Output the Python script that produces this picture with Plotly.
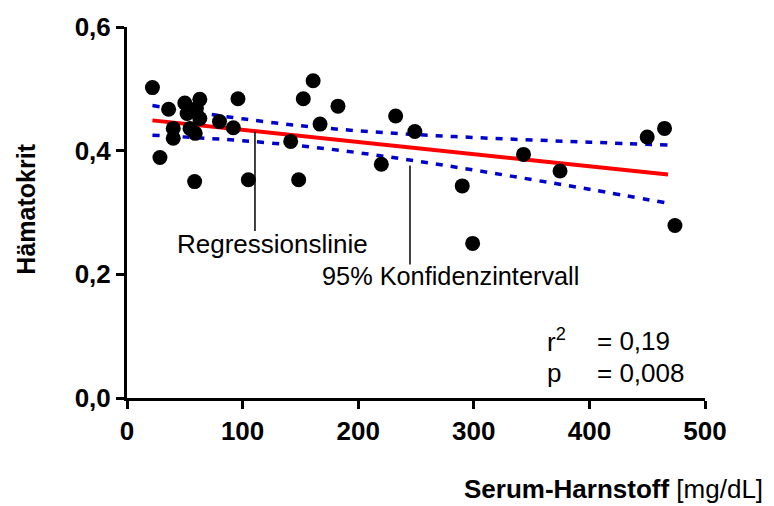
import plotly.graph_objects as go

# --- data ---
urea = [22, 36, 50, 63, 60, 52, 63, 40, 40, 54.5, 59, 80, 92, 96, 28.5, 58.5, 105,
        148.5, 161, 152.5, 182.5, 167, 141.6, 232.4, 249, 220, 290, 299, 343, 374.6,
        450, 465, 474]
hct = [0.502, 0.467, 0.477, 0.483, 0.468, 0.460, 0.452, 0.436, 0.420, 0.436, 0.428,
       0.447, 0.437, 0.484, 0.389, 0.350, 0.353, 0.353, 0.513, 0.484, 0.472, 0.443,
       0.415, 0.456, 0.431, 0.378, 0.343, 0.250, 0.394, 0.367, 0.422, 0.436, 0.279]

reg_x = [22, 468]
reg_y = [0.449, 0.3615]

ci_x = [22, 60, 100, 150, 200, 250, 300, 350, 400, 468]
ci_upper = [0.473, 0.462, 0.4515, 0.4404, 0.4321, 0.426, 0.4213, 0.4173, 0.4137, 0.409]
ci_lower = [0.425, 0.421, 0.4161, 0.4078, 0.3967, 0.3834, 0.3687, 0.3533, 0.3375, 0.315]

x_ticks = [0, 100, 200, 300, 400, 500]
y_ticks = [0.0, 0.2, 0.4, 0.6]

# callout leader lines (x, y_top, y_bottom)
callout_reg = [110.7, 0.431, 0.27]
callout_ci = [244.8, 0.376, 0.216]

FONT = "Liberation Sans, Arial, sans-serif"

fig = go.Figure()

for yy in (ci_upper, ci_lower):
    fig.add_trace(go.Scatter(x=ci_x, y=yy, mode="lines",
                             line=dict(color="#0000CC", width=3.5, dash="7px,8px", shape="spline"),
                             hoverinfo="skip", showlegend=False))

fig.add_trace(go.Scatter(x=reg_x, y=reg_y, mode="lines",
                         line=dict(color="#FF0000", width=4), showlegend=False))

fig.add_trace(go.Scatter(x=urea, y=hct, mode="markers",
                         marker=dict(color="black", size=15), showlegend=False))

for c in (callout_reg, callout_ci):
    fig.add_shape(type="line", x0=c[0], x1=c[0], y0=c[1], y1=c[2], xref="x", yref="y",
                  line=dict(color="black", width=1.5))

def afont(s):
    return dict(family=FONT, size=s, color="black")

fig.add_annotation(x=41.5, y=0.249, text="Regressionslinie", showarrow=False,
                   xanchor="left", font=afont(26))
fig.add_annotation(x=167, y=0.198, text="95% Konfidenzintervall", showarrow=False,
                   xanchor="left", font=afont(25.3))
fig.add_annotation(x=362, y=0.093, text="r<sup>2</sup>", showarrow=False, xanchor="left", font=afont(26))
fig.add_annotation(x=405, y=0.093, text="= 0,19", showarrow=False, xanchor="left", font=afont(26))
fig.add_annotation(x=362, y=0.040, text="p", showarrow=False, xanchor="left", font=afont(26))
fig.add_annotation(x=405, y=0.040, text="= 0,008", showarrow=False, xanchor="left", font=afont(26))

fig.add_annotation(xref="paper", yref="paper", x=1.1038, y=-0.246, xanchor="right", yanchor="middle",
                   text="<b>Serum-Harnstoff</b> [mg/dL]", showarrow=False, font=afont(26))
fig.add_annotation(xref="paper", yref="paper", x=-0.175, y=0.51, xanchor="center", yanchor="middle",
                   text="<b>Hämatokrit</b>", textangle=-90, showarrow=False, font=afont(25))

axis_common = dict(showline=True, linewidth=3, linecolor="black", ticks="outside",
                   ticklen=8, tickwidth=3, tickcolor="black", showgrid=False, zeroline=False,
                   tickfont=dict(family=FONT, size=26, color="black", weight="bold"))

fig.update_xaxes(range=[0, 500], tickvals=x_ticks, **axis_common)
fig.update_yaxes(range=[0, 0.6], tickvals=y_ticks, tickformat=".1f", **axis_common)

fig.update_layout(width=774, height=506, margin=dict(l=127, r=69, t=20, b=108),
                  plot_bgcolor="white", paper_bgcolor="white", separators=",.",
                  font=dict(family=FONT))

fig.write_html("out.html")
